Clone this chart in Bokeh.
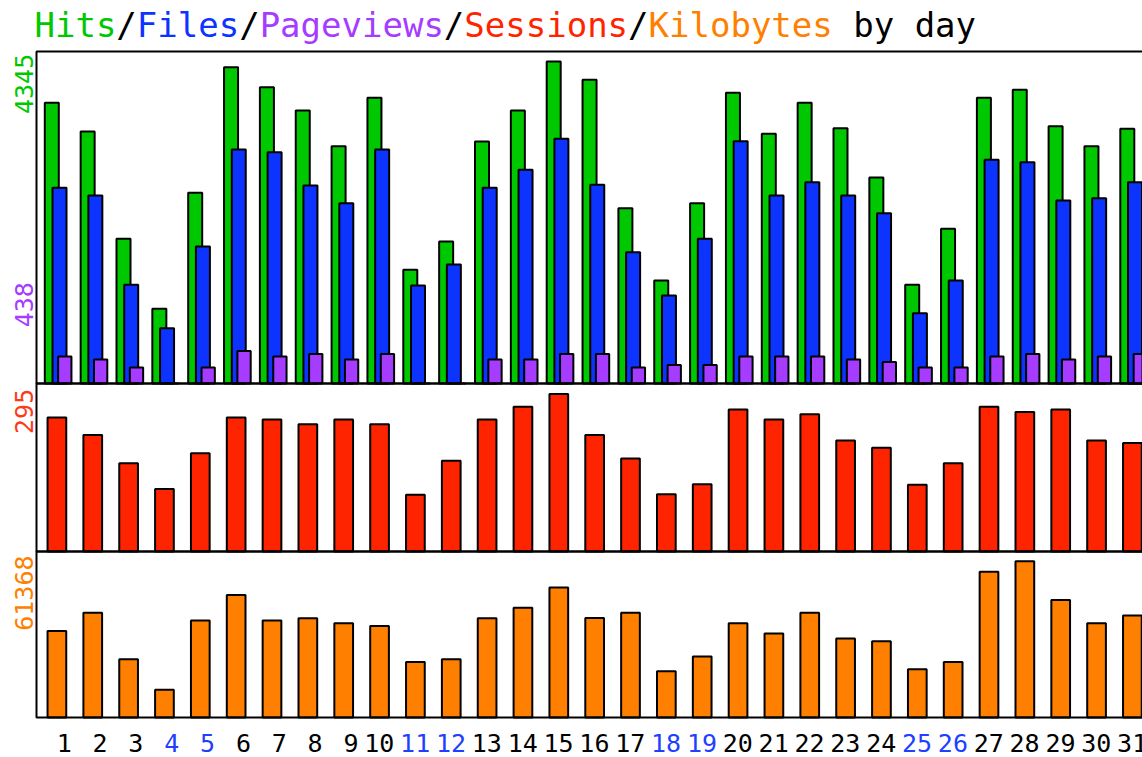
from math import pi
from bokeh.plotting import figure
from bokeh.models import Range1d, ColumnDataSource
from bokeh.core.properties import value
from bokeh.transform import dodge
from bokeh.embed import file_html
from bokeh.resources import INLINE

# ---------------- data ----------------
days = list(range(1, 32))
hits = [3788, 3400, 1953, 1008, 2573, 4268, 3998, 3684, 3202, 3855,
        1534, 1916, 3266, 3684, 4345, 4098, 2366, 1390, 2433, 3923,
        3369, 3788, 3445, 2780, 1332, 2088, 3855, 3963, 3472, 3202, 3437]
files = [2641, 2537, 1332, 746, 1849, 3158, 3121, 2672, 2433, 3158,
         1322, 1606, 2641, 2884, 3302, 2681, 1772, 1187, 1953, 3270,
         2537, 2716, 2537, 2298, 949, 1390, 3019, 2986, 2469, 2500, 2716]
pageviews = [364, 324, 217, 0, 217, 438, 364, 398, 324, 398,
             0, 0, 324, 324, 398, 398, 217, 251, 251, 364,
             364, 364, 324, 290, 217, 217, 364, 398, 324, 364, 398]
sessions = [251, 218, 165, 117, 184, 251, 247, 238, 247, 238,
            106, 170, 247, 271, 295, 218, 174, 107, 126, 266,
            247, 257, 208, 194, 125, 165, 271, 261, 266, 208, 203]
kilobytes = [34025, 41137, 22867, 10923, 38111, 48091, 38111, 39015, 37050, 35990,
             21806, 22867, 39015, 43101, 51116, 39094, 41137, 18152, 23928, 37050,
             33004, 41137, 31000, 29978, 18938, 21806, 57285, 61368, 46126, 37050, 40076]
weekend_days = [4, 5, 11, 12, 18, 19, 25, 26]
day_labels = [str(d) for d in days]
title_parts = ["Hits", "/", "Files", "/", "Pageviews", "/", "Sessions", "/", "Kilobytes", " by day"]

# ---------------- styles ----------------
GREEN = "#00c800"
BLUE = "#0d33ff"
PURPLE = "#a53cff"
RED = "#ff2400"
ORANGE = "#ff7f00"
WEEKEND = "#1f40ff"
FONT = "DejaVu Sans Mono"
title_colors = [GREEN, "black", BLUE, "black", PURPLE, "black", RED, "black", ORANGE, "black"]

# geometry in canvas pixels
W, H = 1142, 757
FRAME_L, FRAME_T = 36, 51
BASE1, BASE2, BASE3 = 383, 551, 717
PEAK1, PEAK2, PEAK3 = 61, 393.4, 560.8
DAY1_X, STEP = 56.4, 35.85


def xd(px):
    return 1 + (px - DAY1_X) / STEP


s1 = (BASE1 - PEAK1) / max(hits)
s2 = (BASE2 - PEAK2) / max(sessions)
s3 = (BASE3 - PEAK3) / max(kilobytes)


def yd(px, base, s):
    return (base - px) / s


def y_range(base, s):
    return Range1d(start=yd(H, base, s), end=yd(0, base, s))


p = figure(width=W, height=H, min_border=0, x_axis_location=None, y_axis_location=None,
           x_range=Range1d(xd(0), xd(W)), y_range=y_range(BASE1, s1),
           output_backend="svg", toolbar_location=None, tools="")
p.extra_y_ranges = {"p2": y_range(BASE2, s2), "p3": y_range(BASE3, s3)}
p.outline_line_color = None
p.background_fill_color = "white"
p.border_fill_color = "white"
p.grid.visible = False
p.xgrid.visible = False
p.ygrid.visible = False

src = ColumnDataSource(dict(day=days, hits=hits, files=files, pageviews=pageviews,
                            sessions=sessions, kilobytes=kilobytes))

bar_kw = dict(source=src, line_color="black", line_width=2)
p.vbar(x=dodge("day", -5.1 / STEP, range=p.x_range), top="hits", width=14 / STEP,
       fill_color=GREEN, **bar_kw)
p.vbar(x=dodge("day", 2.6 / STEP, range=p.x_range), top="files", width=14 / STEP,
       fill_color=BLUE, **bar_kw)
p.vbar(x=dodge("day", 7.9 / STEP, range=p.x_range), top="pageviews", width=13.3 / STEP,
       fill_color=PURPLE, **bar_kw)
p.vbar(x="day", top="sessions", width=18.7 / STEP, fill_color=RED,
       y_range_name="p2", **bar_kw)
p.vbar(x="day", top="kilobytes", width=18.7 / STEP, fill_color=ORANGE,
       y_range_name="p3", **bar_kw)

# panel frames (right edge runs past the canvas, as in the cropped original)
frame_kw = dict(fill_color=None, line_color="black", line_width=2)
p.quad(left=xd(FRAME_L), right=xd(W + 20), bottom=0, top=yd(FRAME_T, BASE1, s1), **frame_kw)
p.quad(left=xd(FRAME_L), right=xd(W + 20), bottom=0, top=yd(BASE1, BASE2, s2),
       y_range_name="p2", **frame_kw)
p.quad(left=xd(FRAME_L), right=xd(W + 20), bottom=0, top=yd(BASE2, BASE3, s3),
       y_range_name="p3", **frame_kw)

# day labels (right aligned next to each group)
lab_src = ColumnDataSource(dict(day=days, label=day_labels,
                                color=[WEEKEND if d in weekend_days else "black" for d in days]))
p.text(x=dodge("day", 14.8 / STEP, range=p.x_range), y=yd(742, BASE3, s3), text="label",
       source=lab_src, y_range_name="p3", text_align="right", text_baseline="middle",
       text_color="color", text_font=value(FONT), text_font_size="25px")

# title (monospace segments)
ADV = 0.602 * 34
tx, tt, tc = [], [], []
idx = 0
for part, col in zip(title_parts, title_colors):
    stripped = part.lstrip(" ")
    lead = len(part) - len(stripped)
    tx.append(xd(34 + (idx + lead) * ADV))
    tt.append(stripped)
    tc.append(col)
    idx += len(part)
title_src = ColumnDataSource(dict(x=tx, text=tt, color=tc))
p.text(x="x", y=yd(24.5, BASE1, s1), text="text", text_color="color", source=title_src,
       text_font=value(FONT), text_font_size="34px", text_align="left",
       text_baseline="middle")

# rotated maximum-value labels (text end at the given pixel row)
vl_src = ColumnDataSource(dict(
    x=[xd(23)] * 4,
    y=[yd(53.3, BASE1, s1), yd(281.7, BASE1, s1), yd(388.3, BASE1, s1), yd(555, BASE1, s1)],
    text=[str(max(hits)), str(max(pageviews)), str(max(sessions)), str(max(kilobytes))],
    color=[GREEN, PURPLE, "#ff3a1a", ORANGE]))
p.text(x="x", y="y", text="text", text_color="color", source=vl_src, angle=pi / 2,
       text_font=value(FONT), text_font_size="25px", text_align="right",
       text_baseline="middle")

open("out.html", "w").write(file_html(p, INLINE))
